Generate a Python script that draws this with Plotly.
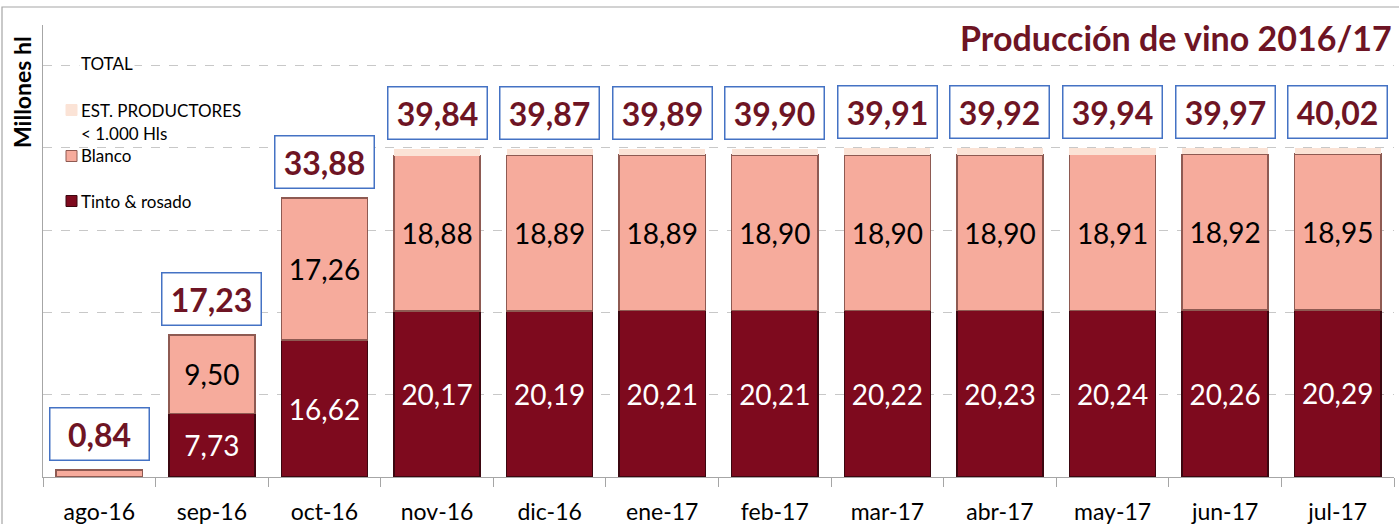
import plotly.graph_objects as go

months = ["ago-16", "sep-16", "oct-16", "nov-16", "dic-16", "ene-17", "feb-17",
          "mar-17", "abr-17", "may-17", "jun-17", "jul-17"]
tinto = [0, 7.73, 16.62, 20.17, 20.19, 20.21, 20.21, 20.22, 20.23, 20.24, 20.26, 20.29]
blanco = [0.84, 9.50, 17.26, 18.88, 18.89, 18.89, 18.90, 18.90, 18.90, 18.91, 18.92, 18.95]
total = [0.84, 17.23, 33.88, 39.84, 39.87, 39.89, 39.90, 39.91, 39.92, 39.94, 39.97, 40.02]
est = [round(t - a - b, 2) for t, a, b in zip(total, tinto, blanco)]

C_TINTO = "#7E0A1E"
C_BLANCO = "#F6AB9C"
C_EST = "#FBE3D6"
C_TOTAL = "#6E1424"
FONT = "Lato"

def fmt(v):
    return f"{v:.2f}".replace(".", ",")

fig = go.Figure()
fig.add_trace(go.Bar(
    x=months, y=tinto, name="Tinto & rosado",
    marker=dict(color=C_TINTO, line=dict(color="#3C0710", width=1.5)),
    text=[fmt(v) if v > 0 else "" for v in tinto],
    textposition="inside", insidetextanchor="middle", constraintext="none",
    textfont=dict(color="white", size=28, family=FONT),
    hoverinfo="x+y+name",
))
fig.add_trace(go.Bar(
    x=months, y=blanco, name="Blanco",
    marker=dict(color=C_BLANCO, line=dict(color="#8E5A52", width=1.5)),
    text=[fmt(v) if i > 0 else "" for i, v in enumerate(blanco)],
    textposition="inside", insidetextanchor="middle", constraintext="none",
    textfont=dict(color="black", size=28, family=FONT),
    hoverinfo="x+y+name",
))
fig.add_trace(go.Bar(
    x=months, y=est, name="EST. PRODUCTORES < 1.000 Hls",
    marker=dict(color=C_EST, line=dict(width=0)),
    hoverinfo="x+y+name",
))

annotations = []
for m, t in zip(months, total):
    annotations.append(dict(
        x=m, y=t, xref="x", yref="y", text=f"<b>{fmt(t)}</b>", showarrow=False,
        yshift=36, width=88, height=41, borderpad=5,
        bordercolor="#4472C4", borderwidth=1.5, bgcolor="white",
        font=dict(size=32, color=C_TOTAL, family=FONT),
    ))

def py(p):
    return (477 - p) / 452

def px(p):
    return (p - 43) / 1351

# legend (custom)
leg_font = dict(size=17, color="black", family=FONT)
annotations += [
    dict(x=px(79), y=py(64), xref="paper", yref="paper", text="TOTAL", showarrow=False,
         xanchor="left", yanchor="middle", font=leg_font, bgcolor="white"),
    dict(x=px(79), y=py(110), xref="paper", yref="paper", text="EST. PRODUCTORES", showarrow=False,
         xanchor="left", yanchor="middle", font=leg_font),
    dict(x=px(79), y=py(133), xref="paper", yref="paper", text="&lt; 1.000 Hls", showarrow=False,
         xanchor="left", yanchor="middle", font=leg_font),
    dict(x=px(79), y=py(156), xref="paper", yref="paper", text="Blanco", showarrow=False,
         xanchor="left", yanchor="middle", font=leg_font),
    dict(x=px(79), y=py(201), xref="paper", yref="paper", text="Tinto &amp; rosado", showarrow=False,
         xanchor="left", yanchor="middle", font=leg_font),
    dict(x=px(22), y=py(92), xref="paper", yref="paper", text="<b>Millones hl</b>", showarrow=False,
         textangle=-90, xanchor="center", yanchor="middle",
         font=dict(size=23, color="black", family=FONT)),
    dict(x=px(1394), y=py(38), xref="paper", yref="paper", text="<b>Producción de vino 2016/17</b>",
         showarrow=False, xanchor="right", yanchor="middle",
         font=dict(size=34, color=C_TOTAL, family=FONT)),
]

shapes = []
for yc, col, lc in [(110, C_EST, C_EST), (156, C_BLANCO, "#8E5A52"), (201, C_TINTO, "#3C0710")]:
    shapes.append(dict(type="rect", xref="paper", yref="paper",
                       x0=px(66), x1=px(77), y0=py(yc + 5.5), y1=py(yc - 5.5),
                       fillcolor=col, line=dict(color=lc, width=1)))
# outer chart border
shapes.append(dict(type="rect", xref="paper", yref="paper",
                   x0=px(2), x1=px(1420), y0=py(560), y1=py(7),
                   line=dict(color="#A6A6A6", width=1.2), fillcolor="rgba(0,0,0,0)", layer="below"))

fig.update_layout(
    barmode="stack", bargap=0.235,
    width=1399, height=524,
    margin=dict(l=43, r=5, t=25, b=47),
    plot_bgcolor="white", paper_bgcolor="white",
    showlegend=False, separators=",.",
    font=dict(family=FONT),
    annotations=annotations, shapes=shapes,
    xaxis=dict(
        showline=True, linecolor="#A6A6A6", linewidth=1.2,
        ticks="outside", tickson="boundaries", ticklen=9, tickcolor="#A6A6A6",
        tickfont=dict(size=23, color="black", family=FONT), ticklabelstandoff=14,
        showgrid=False, automargin=False,
    ),
    yaxis=dict(
        range=[0, 54.9], dtick=10, showticklabels=False,
        showline=True, linecolor="#A6A6A6", linewidth=1.2,
        showgrid=True, gridcolor="#C8C8C8", griddash="dash", gridwidth=1,
        zeroline=False, ticks="", automargin=False,
    ),
)

fig.write_html("out.html", config={"displayModeBar": False},
               post_script="document.body.style.margin='0px';")
